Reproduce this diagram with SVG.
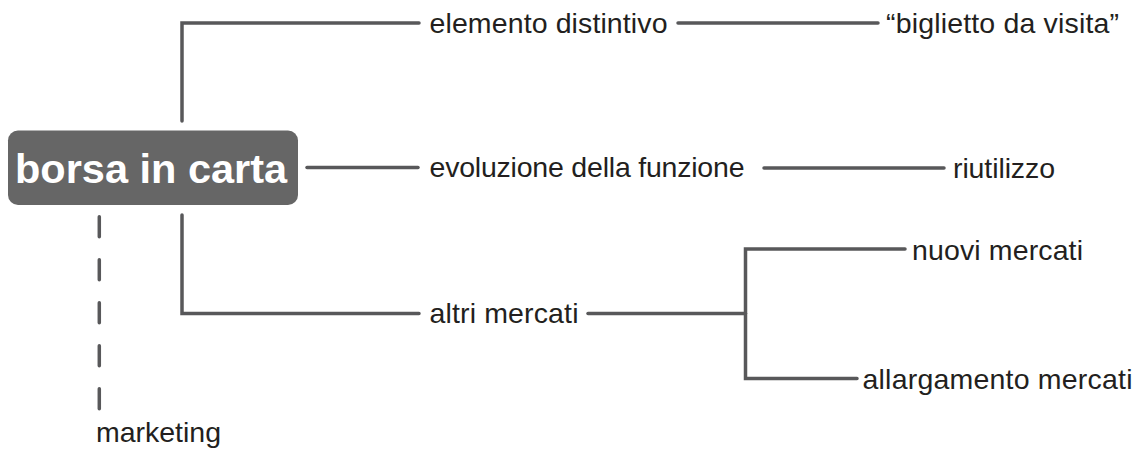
<svg xmlns="http://www.w3.org/2000/svg" width="1148" height="454" viewBox="0 0 1148 454">
<style>
.c{fill:none;stroke:#58585a;stroke-width:3.5;stroke-linecap:round;stroke-linejoin:miter}
.d{stroke-dasharray:20 23}
.t{font-family:"Liberation Sans",Arial,Helvetica,sans-serif;font-size:28.5px;fill:#231f20}
.m{font-family:"Liberation Sans",Arial,Helvetica,sans-serif;font-size:41.5px;font-weight:bold;fill:#ffffff}
</style>
<rect width="1148" height="454" fill="#ffffff"/>
<g id="connectors">
<path class="c" d="M182 121 V23 H419"/>
<path class="c" d="M307 167.5 H418"/>
<path class="c" d="M182 215 V313.5 H419"/>
<path class="c d" d="M99.3 216.7 V410"/>
<path class="c" d="M678 23 H878"/>
<path class="c" d="M764 168 H944"/>
<path class="c" d="M588 313.5 H745.5"/>
<path class="c" d="M905 249 H745.5 V378.5 H857"/>
</g>
<g id="root">
<rect x="8" y="130.5" width="290" height="74.5" rx="10" ry="10" fill="#666666"/>
<text class="m" x="15" y="182.7">borsa in carta</text>
</g>
<g id="elemento"><text class="t" x="429.5" y="33.3" textLength="238" lengthAdjust="spacing">elemento distintivo</text></g>
<g id="biglietto"><text class="t" x="886" y="33.3" textLength="233" lengthAdjust="spacing">“biglietto da visita”</text></g>
<g id="evoluzione"><text class="t" x="429.5" y="177" textLength="315" lengthAdjust="spacing">evoluzione della funzione</text></g>
<g id="riutilizzo"><text class="t" x="953" y="177.5" textLength="102" lengthAdjust="spacing">riutilizzo</text></g>
<g id="altri"><text class="t" x="429.5" y="323.3" textLength="149" lengthAdjust="spacing">altri mercati</text></g>
<g id="nuovi"><text class="t" x="912" y="259.5" textLength="171" lengthAdjust="spacing">nuovi mercati</text></g>
<g id="allargamento"><text class="t" x="862.5" y="389" textLength="270" lengthAdjust="spacing">allargamento mercati</text></g>
<g id="marketing"><text class="t" x="96" y="442" textLength="125" lengthAdjust="spacing">marketing</text></g>
</svg>
